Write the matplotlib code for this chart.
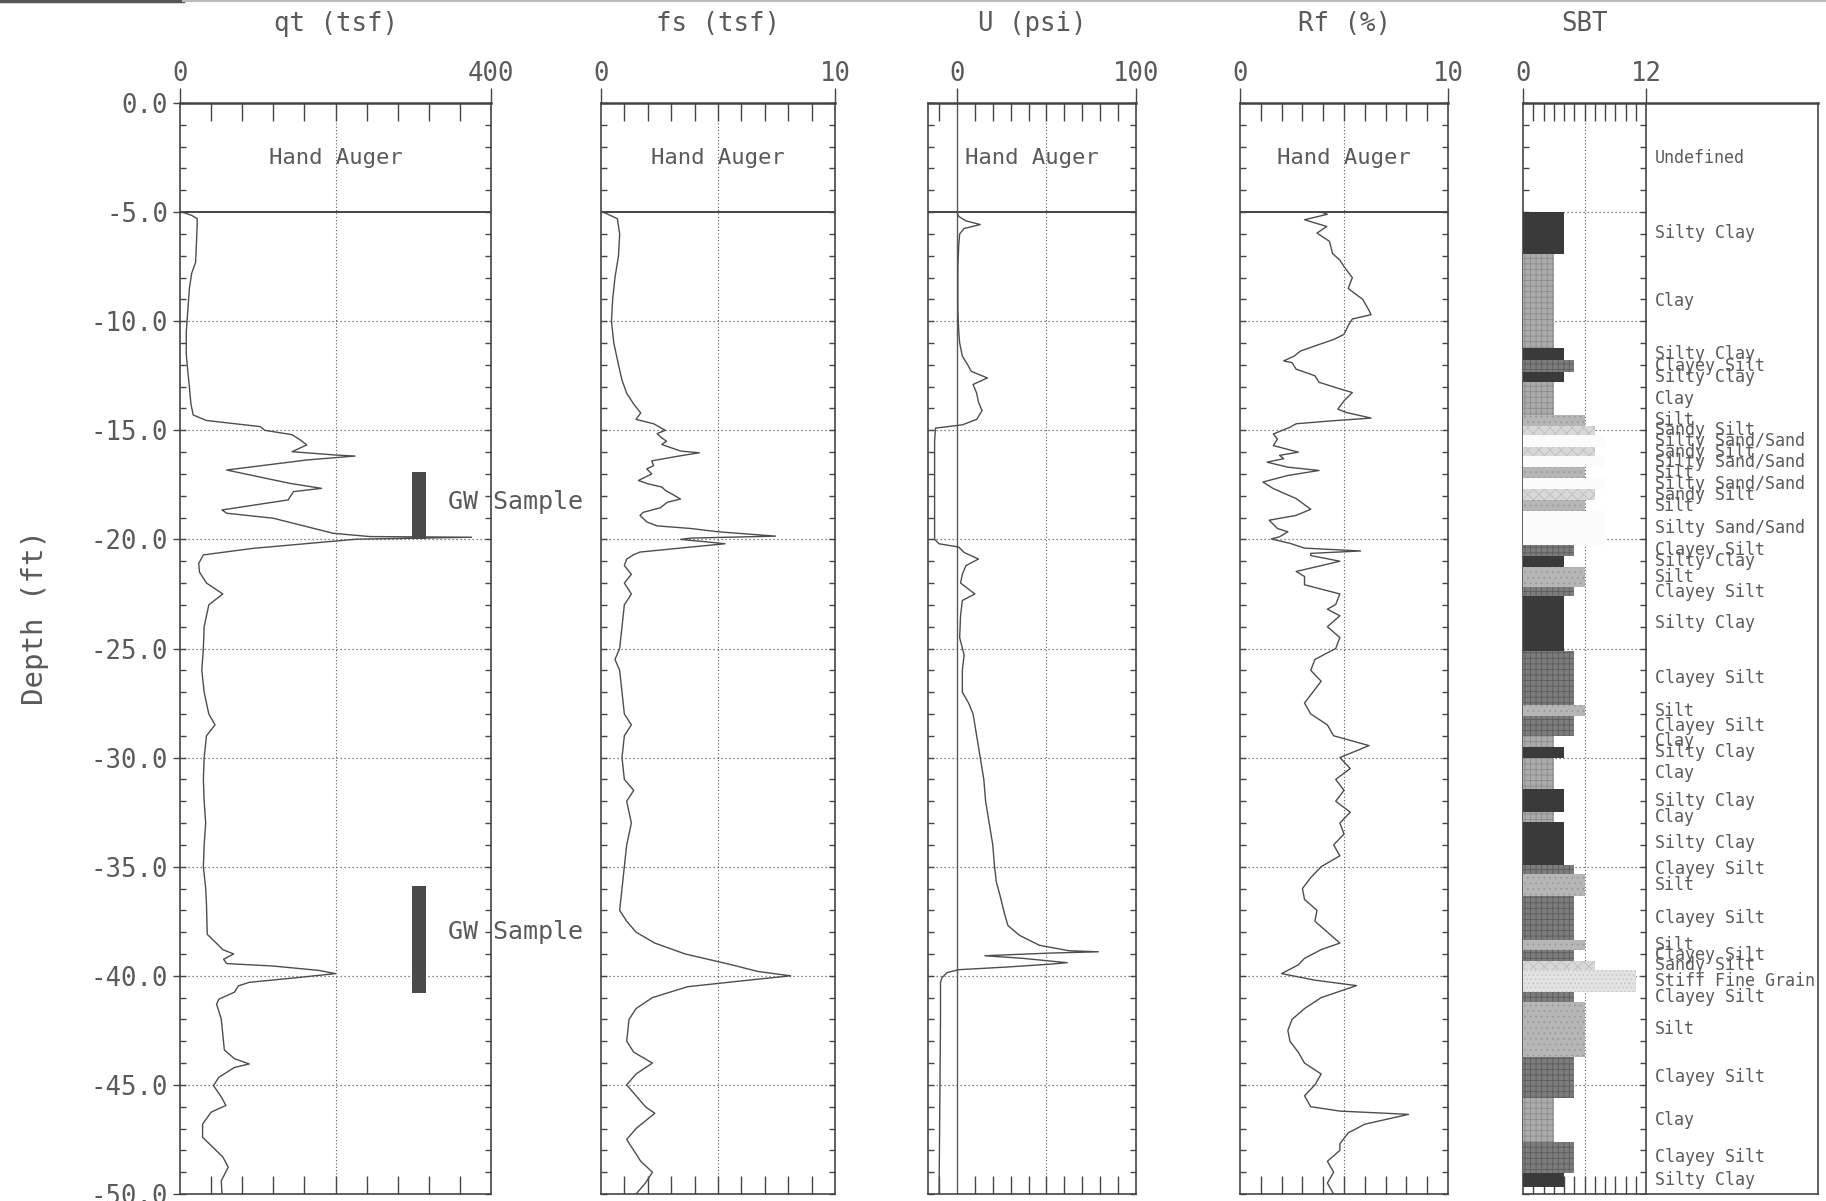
import numpy as np
import matplotlib
matplotlib.use("Agg")
import matplotlib.pyplot as plt
from matplotlib.lines import Line2D
from matplotlib.ticker import FixedLocator
from matplotlib.transforms import blended_transform_factory

# ---- data (depth in ft below surface) ----
qt_depth = [5.0, 5.15, 5.3, 5.6, 6.5, 7.3, 7.8, 8.5, 9.5, 10.5,
            11.5, 12.3, 13.0, 13.8, 14.3, 14.55, 14.83, 15.0, 15.2, 15.45,
            15.67, 15.98, 16.13, 16.18, 16.36, 16.82, 17.43, 17.66, 17.81, 18.19,
            18.65, 18.8, 19.03, 19.72, 19.87, 19.9, 19.99, 20.41, 20.71, 21.1,
            21.5, 22.0, 22.5, 23.0, 24.0, 25.0, 26.0, 27.0, 28.0, 28.5,
            29.0, 30.0, 31.0, 32.0, 33.0, 34.0, 35.0, 36.0, 36.72, 38.1,
            38.55, 38.8, 39.0, 39.24, 39.44, 39.55, 39.75, 39.9, 40.1, 40.3,
            40.46, 40.75, 41.07, 41.3, 41.98, 43.4, 43.8, 44.04, 44.2, 44.65,
            45.03, 45.55, 45.94, 46.25, 46.8, 47.4, 48.3, 48.77, 49.4, 50.0]
qt_val = [3, 15, 22, 22, 21, 20, 15, 12, 10, 8,
          8, 10, 12, 14, 17, 34, 103, 109, 144, 155,
          163, 144, 199, 225, 163, 60, 141, 182, 146, 139,
          54, 60, 120, 197, 244, 375, 227, 94, 30, 24,
          25, 34, 55, 37, 31, 30, 28, 31, 37, 45,
          34, 31, 30, 31, 33, 31, 30, 33, 34, 35,
          48, 55, 69, 56, 60, 119, 178, 200, 146, 89,
          75, 70, 50, 47, 53, 57, 70, 89, 70, 50,
          43, 53, 59, 40, 29, 29, 55, 62, 53, 54]

fs_depth = [5.0, 5.3, 6.0, 7.0, 8.0, 9.0, 10.0, 11.0, 12.0, 12.7,
            13.3, 13.8, 14.2, 14.5, 14.7, 15.0, 15.15, 15.35, 15.5, 15.65,
            15.95, 16.03, 16.18, 16.4, 16.62, 16.77, 17.0, 17.3, 17.45, 17.6,
            17.75, 17.9, 18.15, 18.3, 18.55, 18.76, 18.9, 19.2, 19.38, 19.5,
            19.65, 19.85, 19.94, 20.0, 20.1, 20.2, 20.35, 20.58, 20.7, 20.9,
            21.2, 21.6, 22.0, 22.5, 23.0, 24.0, 25.0, 25.5, 26.0, 27.0,
            28.0, 28.5, 29.0, 30.0, 31.0, 31.5, 32.0, 33.0, 34.0, 35.0,
            36.0, 37.0, 37.5, 38.0, 38.5, 39.0, 39.5, 39.8, 40.0, 40.2,
            40.5, 41.0, 41.5, 42.0, 43.0, 43.5, 44.0, 44.5, 45.0, 46.0,
            46.3, 47.0, 47.5, 48.5, 49.0, 49.5, 50.0]
fs_val = [0.1, 0.7, 0.8, 0.75, 0.6, 0.5, 0.45, 0.55, 0.75, 0.9,
          1.1, 1.4, 1.7, 1.5, 2.25, 2.75, 2.4, 2.6, 2.8, 2.6,
          3.4, 4.2, 3.33, 2.17, 2.25, 1.96, 2.17, 1.6, 2.0, 2.6,
          2.75, 3.0, 3.4, 2.83, 2.54, 1.8, 1.67, 1.96, 2.4, 3.84,
          5.0, 7.46, 3.84, 3.4, 4.4, 5.3, 3.84, 1.67, 1.4, 1.1,
          1.0, 1.3, 1.0, 1.3, 1.0, 0.9, 0.8, 0.6, 0.8, 0.9,
          1.0, 1.3, 1.0, 0.9, 1.0, 1.4, 1.1, 1.3, 1.1, 1.0,
          0.9, 0.8, 1.1, 1.5, 2.3, 3.6, 5.6, 6.7, 8.1, 6.3,
          3.7, 2.2, 1.5, 1.2, 1.1, 1.4, 2.2, 1.5, 1.1, 1.9,
          2.3, 1.5, 1.1, 1.7, 2.2, 1.9, 1.5]

u_depth = [5.0, 5.2, 5.4, 5.57, 5.75, 6.0, 6.5, 7.5, 8.5, 9.5,
           10.5, 11.0, 11.6, 12.0, 12.3, 12.6, 12.9, 13.3, 13.7, 14.1,
           14.5, 14.75, 14.9, 15.5, 17.0, 18.5, 20.0, 20.2, 20.35, 20.6,
           20.9, 21.2, 21.6, 22.0, 22.5, 22.8, 23.5, 24.5, 25.3, 26.0,
           27.0, 27.5, 28.0, 29.0, 30.0, 31.0, 32.0, 33.0, 34.0, 35.0,
           35.7, 36.3, 37.2, 37.7, 38.15, 38.6, 38.85, 38.9, 38.96, 39.08,
           39.2, 39.4, 39.47, 39.6, 39.72, 39.85, 40.08, 40.3, 42.0, 45.0,
           48.0, 50.0]
u_val = [0, 1, 5, 13, 4, 1.5, 1, 0.5, 0.5, 0.5,
         1, 1.5, 3, 6, 8, 17, 9, 11, 12, 14,
         11, 3, -12, -12.5, -12.5, -12.5, -12.5, -10, 1, 4,
         12, 5, 3, 2, 10, 3, 2, 1.5, 4, 3,
         3, 6.5, 9, 11, 13, 15, 16, 18, 20, 21,
         22, 24, 26.7, 28.5, 35, 46, 62.5, 79, 51.5, 15.6,
         36.8, 61.6, 51.5, 27.6, 1, -5.5, -8.3, -9.2, -9.2, -9.5,
         -9.8, -10]

rf_depth = [5.0, 5.1, 5.35, 5.66, 5.96, 6.34, 6.9, 7.2, 7.5, 8.0,
            8.5, 9.0, 9.5, 9.7, 9.9, 10.2, 10.6, 10.84, 11.1, 11.37,
            11.6, 11.82, 11.9, 12.2, 12.5, 12.8, 13.1, 13.27, 13.65, 14.03,
            14.18, 14.44, 14.56, 14.7, 14.86, 15.17, 15.4, 15.7, 16.0, 16.15,
            16.3, 16.46, 16.69, 16.84, 17.07, 17.37, 17.67, 18.13, 18.62, 18.9,
            19.12, 19.5, 19.65, 19.88, 19.98, 20.18, 20.4, 20.53, 20.64, 20.74,
            21.0, 21.47, 21.7, 22.08, 22.5, 22.98, 23.2, 23.5, 24.0, 24.5,
            25.0, 25.5, 26.0, 26.5, 27.0, 27.5, 28.0, 28.5, 29.0, 29.45,
            30.0, 30.5, 31.0, 31.5, 32.0, 32.5, 33.0, 33.5, 34.0, 34.5,
            35.0, 35.5, 36.0, 36.5, 37.0, 37.5, 38.0, 38.5, 38.8, 39.2,
            39.5, 39.9, 40.2, 40.45, 41.0, 41.5, 42.0, 42.5, 43.0, 43.5,
            44.0, 44.5, 45.0, 45.5, 46.0, 46.2, 46.35, 46.8, 47.2, 47.7,
            48.0, 48.5, 49.0, 49.5, 50.0]
rf_val = [3.9, 4.2, 3.1, 4.17, 3.7, 4.3, 4.45, 4.8, 5.0, 5.4,
          5.2, 5.9, 6.2, 6.3, 5.4, 5.2, 5.0, 4.5, 3.7, 2.9,
          2.6, 2.1, 2.5, 2.7, 3.6, 3.8, 4.8, 5.4, 5.0, 4.7,
          5.1, 6.3, 4.5, 2.7, 2.4, 1.6, 1.8, 1.6, 2.8, 1.9,
          2.1, 1.3, 2.3, 3.8, 2.3, 1.1, 1.6, 2.7, 3.4, 2.7,
          1.4, 1.8, 2.3, 1.9, 1.5, 2.4, 3.1, 5.8, 3.4, 3.4,
          4.8, 2.7, 3.1, 3.1, 4.8, 4.6, 4.2, 4.8, 4.2, 4.8,
          4.6, 3.6, 3.4, 3.9, 3.5, 3.1, 3.4, 4.2, 4.5, 6.2,
          4.8, 5.3, 4.6, 5.0, 4.6, 5.3, 4.8, 5.0, 4.5, 4.8,
          3.9, 3.4, 3.0, 3.1, 3.7, 3.6, 4.2, 4.8, 3.9, 3.1,
          2.8, 2.0, 3.6, 5.6, 3.9, 3.1, 2.5, 2.3, 2.4, 2.8,
          3.1, 3.9, 3.6, 3.1, 3.4, 4.8, 8.1, 6.0, 5.2, 4.8,
          4.8, 4.2, 4.5, 4.2, 4.5]

# soil behaviour type layers
sbt_top = [5.0, 6.9, 11.25, 11.8, 12.35, 12.8, 14.3, 14.8, 15.2, 15.75,
           16.2, 16.7, 17.2, 17.7, 18.2, 18.7, 20.25, 20.75, 21.25, 22.2,
           22.6, 25.1, 27.6, 28.1, 29.0, 29.5, 30.0, 31.45, 32.5, 32.95,
           34.9, 35.35, 36.35, 38.35, 38.8, 39.3, 39.75, 40.75, 41.2, 43.7,
           45.6, 47.6, 49.05]
sbt_bottom = sbt_top[1:] + [49.7]
sbt_type = ["Silty Clay", "Clay", "Silty Clay", "Clayey Silt", "Silty Clay",
            "Clay", "Silt", "Sandy Silt", "Silty Sand/Sand", "Sandy Silt",
            "Silty Sand/Sand", "Silt", "Silty Sand/Sand", "Sandy Silt", "Silt",
            "Silty Sand/Sand", "Clayey Silt", "Silty Clay", "Silt", "Clayey Silt",
            "Silty Clay", "Clayey Silt", "Silt", "Clayey Silt", "Clay",
            "Silty Clay", "Clay", "Silty Clay", "Clay", "Silty Clay",
            "Clayey Silt", "Silt", "Clayey Silt", "Silt", "Clayey Silt",
            "Sandy Silt", "Stiff Fine Grain", "Clayey Silt", "Silt", "Clayey Silt",
            "Clay", "Clayey Silt", "Silty Clay"]
zone_names = ["Clay", "Silty Clay", "Clayey Silt", "Silt", "Sandy Silt",
              "Silty Sand/Sand", "Stiff Fine Grain"]
zone_numbers = [3, 4, 5, 6, 7, 8, 11]

# groundwater samples drawn in the qt track
gw_top = [16.9, 35.9]
gw_bottom = [20.0, 40.8]
gw_label_depth = [18.3, 38.0]

# ---- styling ----
plt.rcParams['font.family'] = ['DejaVu Sans Mono', 'DejaVu Sans']
plt.rcParams['hatch.linewidth'] = 0.6
INK = '#5a5a5a'
FRAME = '#444444'

zone_style = {
    "Clay": ('#ababab', '#8c8c8c', '+++'),
    "Silty Clay": ('#3a3a3a', '#3a3a3a', None),
    "Clayey Silt": ('#7c7c7c', '#5c5c5c', '+++'),
    "Silt": ('#b6b6b6', '#9a9a9a', '...'),
    "Sandy Silt": ('#d8d8d8', '#bdbdbd', 'xxx'),
    "Silty Sand/Sand": ('#fbfbfb', '#fbfbfb', None),
    "Stiff Fine Grain": ('#e2e2e2', '#c6c6c6', '....'),
}

fig = plt.figure(figsize=(18.26, 12.01), dpi=100)
B, H = 0.00583, 0.9084
ax_qt = fig.add_axes([0.0986, B, 0.1703, H])
ax_fs = fig.add_axes([0.3291, B, 0.1282, H])
ax_u = fig.add_axes([0.5082, B, 0.1139, H])
ax_rf = fig.add_axes([0.6791, B, 0.1139, H])
ax_sbt = fig.add_axes([0.8341, B, 0.1616, H])

panels = [
    (ax_qt, (0, 400), np.arange(40, 400, 40), 200, [0, 400], "qt (tsf)", qt_depth, qt_val),
    (ax_fs, (0, 10), np.arange(1, 10), 5, [0, 10], "fs (tsf)", fs_depth, fs_val),
    (ax_u, (-16.2, 100), [-10, 10, 20, 30, 40, 50, 60, 70, 80, 90], 50, [0, 100], "U (psi)", u_depth, u_val),
    (ax_rf, (0, 10), np.arange(1, 10), 5, [0, 10], "Rf (%)", rf_depth, rf_val),
    (ax_sbt, (0, 28.78), np.arange(1, 12), 6, [0, 12], "SBT", None, None),
]

depth_major = np.arange(-50, 1, 5)
depth_minor = np.arange(-50, 1, 1)

for ax, xlim, xminor, xmid, xmajor, title, depth, val in panels:
    is_sbt = ax is ax_sbt
    ax.set_xlim(*xlim)
    ax.set_ylim(-50, 0)
    for sp in ax.spines.values():
        sp.set_color(FRAME)
        sp.set_linewidth(1.2)
    ax.spines['top'].set_linewidth(1.8)

    # x ticks: labelled ends on top, pointing out; small ticks inside top and bottom
    ax.set_xticks(xmajor)
    ax.set_xticklabels([str(v) for v in xmajor])
    ax.xaxis.set_minor_locator(FixedLocator(xminor))
    ax.tick_params(axis='x', which='major', top=True, bottom=False, labeltop=True,
                   labelbottom=False, direction='out', length=11, width=1,
                   color=FRAME, labelsize=18.5, labelcolor=INK, pad=0.5)
    ax.tick_params(axis='x', which='minor', top=True, bottom=True, direction='in',
                   length=13, width=1, color=FRAME)

    # y ticks
    ax.yaxis.set_major_locator(FixedLocator(depth_major))
    ax.yaxis.set_minor_locator(FixedLocator(depth_minor))
    ax.yaxis.remove_overlapping_locs = False
    ax.tick_params(axis='y', which='minor', left=True, right=not is_sbt, direction='in',
                   length=4, width=1, color=FRAME)
    if ax is ax_qt:
        ax.tick_params(axis='y', which='major', left=True, right=False, direction='out',
                       length=5, width=1, color=FRAME, labelsize=18.5, labelcolor=INK, pad=3.5)
        ax.set_yticklabels([f"{v:.1f}" for v in depth_major])
    else:
        ax.tick_params(axis='y', which='major', left=False, right=False, labelleft=False)

    # dotted grid, solid line where the hand auger section ends
    ax.axvline(xmid, color=INK, lw=0.8, ls=(0, (1, 2)), zorder=1)
    gx = 12 / xlim[1] if is_sbt else 1.0
    for d in np.arange(-45, -4, 5):
        if d == -5 and not is_sbt:
            ax.axhline(d, color=FRAME, lw=1.4, zorder=2)
        else:
            ax.axhline(d, xmin=0, xmax=gx, color=INK, lw=0.9, ls=(0, (1, 2.2)), zorder=1)

    # track title
    if is_sbt:
        ax.text(6, 0.98, title, transform=blended_transform_factory(ax.transData, fig.transFigure),
                ha='center', va='center', fontsize=18.5, color=INK)
    else:
        ax.text(0.5, 0.98, title, transform=blended_transform_factory(ax.transAxes, fig.transFigure),
                ha='center', va='center', fontsize=18.5, color=INK)

    if depth is not None:
        ax.plot(val, -np.array(depth), color='#4d4d4d', lw=1.0, zorder=3)
        ax.text(0.5, -2.5, "Hand Auger", transform=blended_transform_factory(ax.transAxes, ax.transData),
                ha='center', va='center', fontsize=16, color=INK)

# zero line of pore pressure track
ax_u.axvline(0, color=INK, lw=1.0, zorder=2)

# groundwater samples
for t, b, d in zip(gw_top, gw_bottom, gw_label_depth):
    ax_qt.bar(298, -(b - t), bottom=-t, width=19, align='edge', color='#4a4a4a', zorder=4)
    ax_qt.text(345, -d, "GW Sample", ha='left', va='center', fontsize=18, color=INK,
               clip_on=False, zorder=5)

# SBT column
zone_of = dict(zip(zone_names, zone_numbers))
ax_sbt.axvline(12, color=FRAME, lw=1.2, zorder=2)
ax_sbt.plot(np.full(len(depth_minor), 12.0), depth_minor, ls='none', marker=0,
            ms=4, mew=1, color=FRAME)
for t, b, name in zip(sbt_top, sbt_bottom, sbt_type):
    face, edge, hatch = zone_style[name]
    ax_sbt.barh(-(t + b) / 2, zone_of[name], height=b - t, left=0, color=face,
                edgecolor=edge, hatch=hatch, linewidth=0, zorder=3)
    ax_sbt.text(12.85, -(t + b) / 2, name, ha='left', va='center', fontsize=12,
                color=INK, zorder=4)
ax_sbt.text(12.85, -2.5, "Undefined", ha='left', va='center', fontsize=12, color=INK)

fig.text(35 / 1826, 0.486, "Depth (ft)", rotation=90, ha='center', va='center',
         fontsize=21, color=INK)

# scanner edge at the very top of the sheet
fig.add_artist(Line2D([0, 0.1], [0.999, 0.999], color='#555555', lw=2.5))
fig.add_artist(Line2D([0.1, 1], [0.999, 0.999], color='#bbbbbb', lw=1.5))

fig.savefig("out.png", dpi=100, facecolor='white')
